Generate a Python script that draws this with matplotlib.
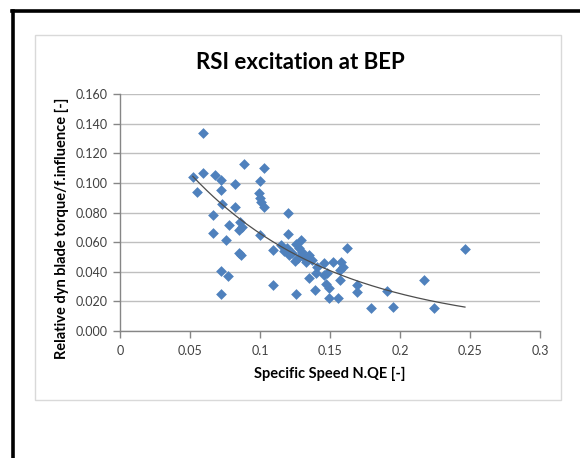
import numpy as np
import matplotlib
matplotlib.use('Agg')
import matplotlib.pyplot as plt
from matplotlib.patches import Rectangle
from matplotlib.lines import Line2D

plt.rcParams['font.family'] = ['Lato', 'DejaVu Sans']

### data
speed = [0.059, 0.0885, 0.103, 0.059, 0.052, 0.068, 0.072, 0.100, 0.082, 0.055,
         0.072, 0.099, 0.100, 0.101, 0.103, 0.073, 0.082, 0.0665, 0.0776, 0.0855,
         0.087, 0.085, 0.0665, 0.076, 0.100, 0.0848, 0.0862, 0.072, 0.077, 0.072,
         0.109, 0.109,
         0.120, 0.120, 0.115, 0.119, 0.129, 0.128, 0.123, 0.131, 0.135, 0.127,
         0.133, 0.126, 0.146, 0.152, 0.158, 0.1595, 0.157, 0.148, 0.140, 0.146,
         0.135, 0.139, 0.126, 0.147, 0.149, 0.149, 0.1555, 0.157, 0.162, 0.169,
         0.169, 0.179, 0.191, 0.195, 0.217, 0.224, 0.2464,
         0.121, 0.117, 0.130, 0.137, 0.141, 0.125]
torque = [0.134, 0.113, 0.110, 0.107, 0.104, 0.105, 0.102, 0.101, 0.099, 0.094,
          0.095, 0.093, 0.090, 0.087, 0.084, 0.086, 0.084, 0.0785, 0.0716, 0.0738,
          0.070, 0.068, 0.066, 0.0614, 0.0646, 0.0529, 0.0515, 0.0405, 0.037, 0.025,
          0.0547, 0.031,
          0.080, 0.0655, 0.058, 0.0558, 0.0614, 0.0558, 0.0525, 0.050, 0.051, 0.049,
          0.0468, 0.059, 0.0457, 0.0468, 0.0468, 0.0434, 0.041, 0.039, 0.039, 0.0378,
          0.0356, 0.0277, 0.025, 0.032, 0.029, 0.022, 0.022, 0.0344, 0.0558, 0.031,
          0.0265, 0.0153, 0.027, 0.016, 0.0344, 0.0153, 0.0556,
          0.051, 0.054, 0.053, 0.048, 0.043, 0.047]

### exponential trend line y = a * exp(b * x), coefficients
trend_a = 0.172
trend_b = -9.6

x_ticks = [0, 0.05, 0.1, 0.15, 0.2, 0.25, 0.3]
x_ticklabels = ['0', '0.05', '0.1', '0.15', '0.2', '0.25', '0.3']
y_ticks = [0.0, 0.02, 0.04, 0.06, 0.08, 0.10, 0.12, 0.14, 0.16]

W, H = 580, 458
fig = plt.figure(figsize=(W / 100, H / 100), dpi=100)

def fx(px):
    return px / W

def fy(py):
    return 1 - py / H

### chart area frame and black page borders
fig.patches.append(Rectangle((fx(35), fy(400)), fx(561) - fx(35), fy(35) - fy(400),
                             transform=fig.transFigure, facecolor='white',
                             edgecolor='#D9D9D9', lw=1.0, zorder=-5))
fig.lines.append(Line2D([fx(13), fx(13)], [0, fy(11)], transform=fig.transFigure,
                        color='black', lw=2.6))
fig.lines.append(Line2D([fx(12), 1], [fy(11), fy(11)], transform=fig.transFigure,
                        color='black', lw=2.6))

ax = fig.add_axes([fx(120), fy(331), fx(540) - fx(120), fy(94) - fy(331)])
ax.set_facecolor('none')
ax.set_zorder(2)

ax.scatter(speed, torque, marker='D', s=30, color='#4F81BD', linewidths=0, zorder=3)

### trend line over the data range, as Excel draws it
xt = np.linspace(min(speed), max(speed), 200)
ax.plot(xt, trend_a * np.exp(trend_b * xt), color='#4D4D4D', lw=0.9, zorder=4)

ax.set_xlim(0, 0.3)
ax.set_ylim(0, 0.16)
ax.set_xticks(x_ticks)
ax.set_xticklabels(x_ticklabels)
ax.set_yticks(y_ticks)
ax.set_yticklabels(['%.3f' % v for v in y_ticks])
ax.yaxis.grid(True, color='#BFBFBF', lw=1.0)
ax.set_axisbelow(True)
for s in ['top', 'right']:
    ax.spines[s].set_visible(False)
for s in ['left', 'bottom']:
    ax.spines[s].set_color('#868686')
    ax.spines[s].set_linewidth(1.0)
ax.tick_params(axis='both', direction='out', length=5, width=1, color='#868686',
               labelsize=9, labelcolor='#404040')
ax.tick_params(axis='y', pad=4)
ax.tick_params(axis='x', pad=5)

fig.text(fx(300), fy(63), 'RSI excitation at BEP', ha='center', va='center',
         fontsize=16, fontweight='bold')
fig.text(fx(330), fy(374), 'Specific Speed N.QE [-]', ha='center', va='center',
         fontsize=10.5, fontweight='bold')
fig.text(fx(62), fy(228), 'Relative dyn blade torque/f.influence [-]', ha='center',
         va='center', rotation=90, fontsize=10.5, fontweight='bold')

fig.savefig('out.png', dpi=100)
